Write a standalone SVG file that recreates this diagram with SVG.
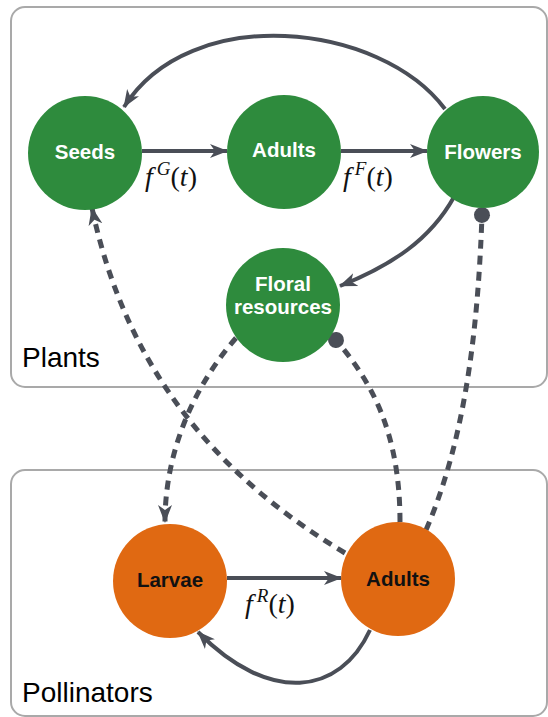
<svg xmlns="http://www.w3.org/2000/svg" width="548" height="717" viewBox="0 0 548 717">
<defs>
<style>
.box{fill:none;stroke:#a9a9a9;stroke-width:2}
.boxlabel{font-family:"Liberation Sans",Arial,sans-serif;font-size:28px;fill:#000}
.plant{fill:#2e8b3d}
.poll{fill:#e06912}
.lbl{font-family:"Liberation Sans",Arial,sans-serif;font-weight:bold;font-size:20.5px;text-anchor:middle}
.w{fill:#fff}
.k{fill:#111}
.edge{fill:none;stroke:#4a4e57;stroke-width:4}
.dash{fill:none;stroke:#4a4e57;stroke-width:5;stroke-dasharray:9 7}
.math{font-family:"Liberation Serif","Times New Roman",serif;font-size:28px;fill:#111}
.it{font-style:italic}
</style>
<marker id="arr" markerUnits="userSpaceOnUse" markerWidth="20" markerHeight="16" refX="17" refY="8" orient="auto">
<path d="M0,1 L18,8 L0,15 L5,8 z" fill="#4a4e57"/>
</marker>
<marker id="dot" markerUnits="userSpaceOnUse" markerWidth="18" markerHeight="18" refX="9" refY="9" orient="auto">
<circle cx="9" cy="9" r="8" fill="#4a4e57"/>
</marker>
</defs>
<g id="plants-box">
<rect class="box" x="11" y="7" width="536" height="380" rx="14"/>
<text class="boxlabel" x="22" y="367">Plants</text>
</g>
<g id="pollinators-box">
<rect class="box" x="11" y="470" width="536" height="246" rx="14"/>
<text class="boxlabel" x="22" y="702">Pollinators</text>
</g>
<g id="connectors">
<path class="edge" d="M445,109 C 380,22 190,2 124,107" marker-end="url(#arr)"/>
<path class="edge" d="M142,151 L227,151" marker-end="url(#arr)"/>
<path class="edge" d="M341,151 L427,151" marker-end="url(#arr)"/>
<path class="edge" d="M454,197 C 430,240 392,265 340,286" marker-end="url(#arr)"/>
<path class="edge" d="M227,578 L341,578" marker-end="url(#arr)"/>
<path class="edge" d="M370,630 C 340,695 270,705 198,632" marker-end="url(#arr)"/>
<path class="dash" d="M236,338 C 195,385 165,450 165,522" marker-end="url(#arr)"/>
<path class="dash" d="M345,553 C 240,490 130,390 92,208" marker-end="url(#arr)"/>
<path class="dash" d="M400,522 C 400,430 370,380 336,340" marker-end="url(#dot)"/>
<path class="dash" d="M426,530 C 465,440 478,330 482,215" marker-end="url(#dot)"/>
</g>
<g id="seeds">
<circle class="plant" cx="85" cy="153" r="57"/>
<text class="lbl w" x="85" y="159">Seeds</text>
</g>
<g id="plant-adults">
<circle class="plant" cx="284" cy="152" r="57"/>
<text class="lbl w" x="284" y="157">Adults</text>
</g>
<g id="flowers">
<circle class="plant" cx="483" cy="152" r="56"/>
<text class="lbl w" x="483" y="159">Flowers</text>
</g>
<g id="floral-resources">
<circle class="plant" cx="283" cy="305" r="57"/>
<text class="lbl w" x="283" y="291">Floral</text>
<text class="lbl w" x="283" y="314">resources</text>
</g>
<g id="larvae">
<circle class="poll" cx="170" cy="581" r="57"/>
<text class="lbl k" x="170" y="587">Larvae</text>
</g>
<g id="poll-adults">
<circle class="poll" cx="398" cy="579" r="57"/>
<text class="lbl k" x="398" y="586">Adults</text>
</g>
<g id="rate-labels">
<text class="math" x="145" y="186"><tspan class="it">f</tspan><tspan class="it" dx="4" dy="-11" font-size="19">G</tspan><tspan dy="11">(</tspan><tspan class="it">t</tspan>)</text>
<text class="math" x="343" y="186"><tspan class="it">f</tspan><tspan class="it" dx="4" dy="-11" font-size="19">F</tspan><tspan dy="11">(</tspan><tspan class="it">t</tspan>)</text>
<text class="math" x="245" y="613"><tspan class="it">f</tspan><tspan class="it" dx="4" dy="-11" font-size="19">R</tspan><tspan dy="11">(</tspan><tspan class="it">t</tspan>)</text>
</g>
</svg>
